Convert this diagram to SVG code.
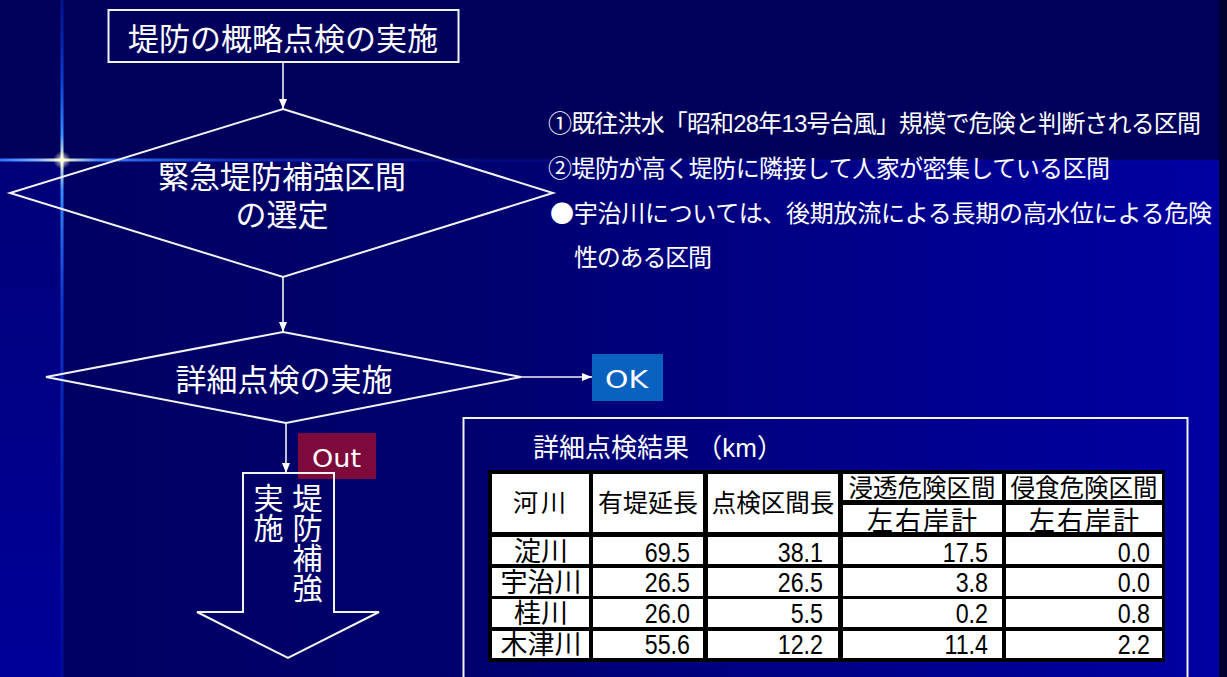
<svg xmlns="http://www.w3.org/2000/svg" width="1227" height="677" viewBox="0 0 1227 677">
<defs>
<linearGradient id="bgR" x1="0" y1="0" x2="1" y2="0">
<stop offset="0" stop-color="#000062"/>
<stop offset="0.35" stop-color="#00006E"/>
<stop offset="1" stop-color="#0000A2"/>
</linearGradient>
<linearGradient id="bgL" x1="0" y1="0" x2="0" y2="1">
<stop offset="0" stop-color="#000078"/>
<stop offset="1" stop-color="#000098"/>
</linearGradient>
<linearGradient id="glowV" x1="0" y1="0" x2="0" y2="677" gradientUnits="userSpaceOnUse">
<stop offset="0" stop-color="#0030D0" stop-opacity="0.4"/>
<stop offset="0.12" stop-color="#1050F0" stop-opacity="0.8"/>
<stop offset="0.2" stop-color="#3A8CFF"/>
<stop offset="0.236" stop-color="#FFFFC8"/>
<stop offset="0.28" stop-color="#3A8CFF"/>
<stop offset="0.45" stop-color="#1040E0" stop-opacity="0.8"/>
<stop offset="1" stop-color="#0010B0" stop-opacity="0.6"/>
</linearGradient>
<linearGradient id="glowH" x1="0" y1="0" x2="1227" y2="0" gradientUnits="userSpaceOnUse">
<stop offset="0" stop-color="#2A70FF"/>
<stop offset="0.03" stop-color="#7FB0FF"/>
<stop offset="0.05" stop-color="#FFFFC8"/>
<stop offset="0.08" stop-color="#3A80FF"/>
<stop offset="0.2" stop-color="#1040E0" stop-opacity="0.6"/>
<stop offset="0.4" stop-color="#1030D0" stop-opacity="0.15"/>
<stop offset="1" stop-color="#1030D0" stop-opacity="0.05"/>
</linearGradient>
<radialGradient id="glowC">
<stop offset="0" stop-color="#FFFFE0" stop-opacity="0.9"/>
<stop offset="1" stop-color="#FFFFE0" stop-opacity="0"/>
</radialGradient>
<marker id="arr" markerWidth="10" markerHeight="8" refX="10" refY="4" orient="auto" markerUnits="userSpaceOnUse">
<path d="M0,0 L10,4 L0,8 z" fill="#FFFFFF"/>
</marker>
<style>
.jp{font-family:"Liberation Sans","Noto Sans CJK JP","Noto Sans CJK SC",sans-serif;fill:#FFFFFF}
.cjk{font-family:"Noto Sans CJK JP","Noto Sans CJK SC",sans-serif}
.lat{font-family:"DejaVu Sans","Liberation Sans",sans-serif;fill:#FFFFFF}
.shape{fill:none;stroke:#F2F2F2;stroke-width:2}
.conn{stroke:#F2F2F2;stroke-width:1.6;fill:none}
.tj{font-family:"Liberation Sans","Noto Sans CJK JP","Noto Sans CJK SC",sans-serif;fill:#000000;text-anchor:middle}
.num{font-family:"Liberation Sans",Arial,sans-serif;font-size:28px;fill:#000000;text-anchor:end}
.cell{fill:#FFFFFF}
.vert{writing-mode:vertical-rl;text-orientation:upright}
</style>
</defs>

<!-- background -->
<rect x="0" y="0" width="1227" height="677" fill="#00005C"/>
<rect x="62" y="160" width="1157" height="517" fill="url(#bgR)"/>
<rect x="0" y="160" width="62" height="517" fill="url(#bgL)"/>
<rect x="1219" y="0" width="8" height="677" fill="#000030"/>
<rect x="60.5" y="0" width="3" height="677" fill="url(#glowV)"/>
<rect x="0" y="158.5" width="1219" height="3" fill="url(#glowH)"/>
<circle cx="62" cy="160" r="9" fill="url(#glowC)"/>

<!-- nodes -->
<g id="n-title">
<rect x="108.5" y="10" width="350" height="52" class="shape" stroke-width="2.5"/>
<text x="283" y="50" class="jp" font-size="31" text-anchor="middle">堤防の概略点検の実施</text>
</g>

<g id="n-select">
<polygon points="283,109 553,193 283,277 10,193" class="shape"/>
<text x="282" y="188" class="jp" font-size="31" text-anchor="middle">緊急堤防補強区間</text>
<text x="282" y="226" class="jp" font-size="31" text-anchor="middle">の選定</text>
</g>

<g id="n-criteria">
<text x="548" y="132" class="jp" font-size="24" textLength="653">①既往洪水「昭和28年13号台風」規模で危険と判断される区間</text>
<text x="548" y="177" class="jp" font-size="24" textLength="562">②堤防が高く堤防に隣接して人家が密集している区間</text>
<text x="550" y="222" class="jp" font-size="24" textLength="662"><tspan class="cjk">●</tspan>宇治川については、後期放流による長期の高水位による危険</text>
<text x="574" y="266" class="jp" font-size="24" textLength="138">性のある区間</text>
</g>

<g id="n-inspect">
<polygon points="283,332 521,377 286,423 46,377" class="shape"/>
<text x="284" y="391" class="jp" font-size="31" text-anchor="middle">詳細点検の実施</text>
</g>

<g id="n-ok">
<rect x="592" y="354" width="71" height="47" fill="#0A62C0"/>
<text x="605" y="388" class="lat" font-size="25" textLength="43" lengthAdjust="spacingAndGlyphs">OK</text>
</g>

<g id="n-out">
<rect x="298" y="433" width="78" height="46" fill="#7D0A3A"/>
<text x="312" y="467" class="lat" font-size="24" textLength="49" lengthAdjust="spacingAndGlyphs">Out</text>
</g>

<g id="n-reinforce">
<polygon points="243,473 334,473 334,612 379,612 288,658 197,612 243,612" class="shape"/>
<text x="305" y="483" class="jp vert" font-size="30">堤防補強</text>
<text x="266" y="483" class="jp vert" font-size="30">実施</text>
</g>

<g id="n-table">
<rect x="463.5" y="418" width="724" height="270" fill="none" stroke="#F2F2F2" stroke-width="2"/>
<text x="533" y="457" class="jp" font-size="26" fill="#EEEEFF">詳細点検結果 （km）</text>
<rect x="488" y="470" width="677" height="192" fill="#000000"/>
<rect class="cell" x="492" y="474" width="97" height="58"/>
<rect class="cell" x="593" y="474" width="110" height="58"/>
<rect class="cell" x="708" y="474" width="130" height="58"/>
<rect class="cell" x="843" y="474" width="159" height="26"/>
<rect class="cell" x="1006" y="474" width="156" height="26"/>
<rect class="cell" x="843" y="505" width="159" height="27"/>
<rect class="cell" x="1006" y="505" width="156" height="27"/>
<g>
<rect class="cell" x="492" y="537" width="97" height="27"/>
<rect class="cell" x="593" y="537" width="110" height="27"/>
<rect class="cell" x="708" y="537" width="130" height="27"/>
<rect class="cell" x="843" y="537" width="159" height="27"/>
<rect class="cell" x="1006" y="537" width="156" height="27"/>
<rect class="cell" x="492" y="568" width="97" height="28"/>
<rect class="cell" x="593" y="568" width="110" height="28"/>
<rect class="cell" x="708" y="568" width="130" height="28"/>
<rect class="cell" x="843" y="568" width="159" height="28"/>
<rect class="cell" x="1006" y="568" width="156" height="28"/>
<rect class="cell" x="492" y="599" width="97" height="28"/>
<rect class="cell" x="593" y="599" width="110" height="28"/>
<rect class="cell" x="708" y="599" width="130" height="28"/>
<rect class="cell" x="843" y="599" width="159" height="28"/>
<rect class="cell" x="1006" y="599" width="156" height="28"/>
<rect class="cell" x="492" y="631" width="97" height="27"/>
<rect class="cell" x="593" y="631" width="110" height="27"/>
<rect class="cell" x="708" y="631" width="130" height="27"/>
<rect class="cell" x="843" y="631" width="159" height="27"/>
<rect class="cell" x="1006" y="631" width="156" height="27"/>
</g>
<text x="541" y="512" class="tj" font-size="25" letter-spacing="3">河川</text>
<text x="648" y="512" class="tj" font-size="25">有堤延長</text>
<text x="773" y="512" class="tj" font-size="24.5">点検区間長</text>
<text x="922" y="497" class="tj" font-size="24.5">浸透危険区間</text>
<text x="1084" y="497" class="tj" font-size="24.5">侵食危険区間</text>
<text x="923" y="530" class="tj" font-size="26" letter-spacing="2">左右岸計</text>
<text x="1085" y="530" class="tj" font-size="26" letter-spacing="2">左右岸計</text>
<text x="541" y="561" class="tj" font-size="27">淀川</text>
<text x="541" y="592" class="tj" font-size="27">宇治川</text>
<text x="541" y="623" class="tj" font-size="27">桂川</text>
<text x="541" y="654" class="tj" font-size="27">木津川</text>
<text class="num" transform="translate(690,562) scale(0.83,1)">69.5</text>
<text class="num" transform="translate(823,562) scale(0.83,1)">38.1</text>
<text class="num" transform="translate(988,562) scale(0.83,1)">17.5</text>
<text class="num" transform="translate(1150,562) scale(0.83,1)">0.0</text>
<text class="num" transform="translate(690,592) scale(0.83,1)">26.5</text>
<text class="num" transform="translate(823,592) scale(0.83,1)">26.5</text>
<text class="num" transform="translate(988,592) scale(0.83,1)">3.8</text>
<text class="num" transform="translate(1150,592) scale(0.83,1)">0.0</text>
<text class="num" transform="translate(690,623) scale(0.83,1)">26.0</text>
<text class="num" transform="translate(823,623) scale(0.83,1)">5.5</text>
<text class="num" transform="translate(988,623) scale(0.83,1)">0.2</text>
<text class="num" transform="translate(1150,623) scale(0.83,1)">0.8</text>
<text class="num" transform="translate(690,654) scale(0.83,1)">55.6</text>
<text class="num" transform="translate(823,654) scale(0.83,1)">12.2</text>
<text class="num" transform="translate(988,654) scale(0.83,1)">11.4</text>
<text class="num" transform="translate(1150,654) scale(0.83,1)">2.2</text>
</g>

<g id="connectors">
<line x1="283" y1="62" x2="283" y2="109" class="conn" marker-end="url(#arr)"/>
<line x1="283" y1="277" x2="283" y2="332" class="conn" marker-end="url(#arr)"/>
<line x1="521" y1="377" x2="592" y2="377" class="conn" marker-end="url(#arr)"/>
<line x1="286" y1="423" x2="286" y2="473" class="conn" marker-end="url(#arr)"/>
</g>
</svg>
